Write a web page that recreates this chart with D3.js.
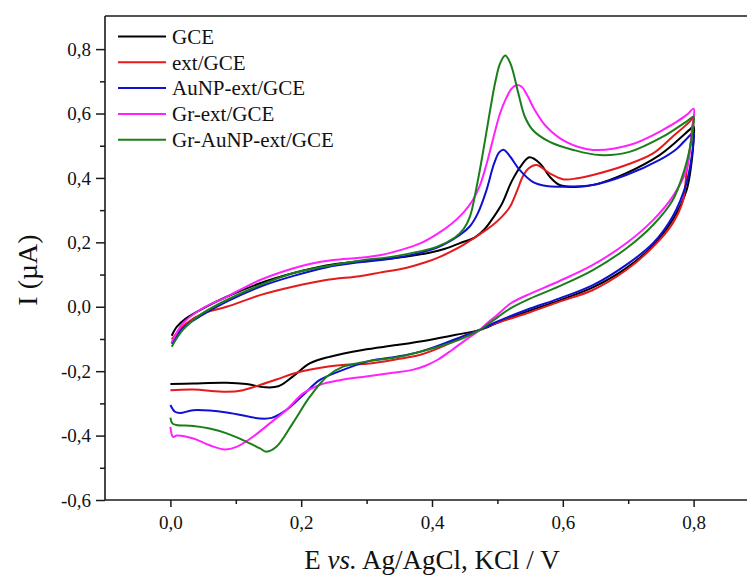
<!DOCTYPE html>
<html>
<head>
<meta charset="utf-8">
<script src="https://cdn.jsdelivr.net/npm/d3@7/dist/d3.min.js"></script>
<style>
  html, body { margin: 0; padding: 0; background: #fff; }
  svg { display: block; }
  text { font-family: "Liberation Serif", "DejaVu Serif", serif; fill: #111; }
</style>
</head>
<body>
<svg id="chart" width="747" height="578"></svg>
<script>
// ---- Data (E / V, I / µA) ----
const seriesNames = ["GCE", "ext/GCE", "AuNP-ext/GCE", "Gr-ext/GCE", "Gr-AuNP-ext/GCE"];
const seriesColors = ["#000000", "#e41a1c", "#1010d0", "#ff22ff", "#1a7f1a"];

const xTickValues = [0.0, 0.2, 0.4, 0.6, 0.8];
const xTickLabels = ["0,0", "0,2", "0,4", "0,6", "0,8"];
const yTickValues = [-0.6, -0.4, -0.2, 0.0, 0.2, 0.4, 0.6, 0.8];
const yTickLabels = ["-0,6", "-0,4", "-0,2", "0,0", "0,2", "0,4", "0,6", "0,8"];

const gce = [
  [0.002,-0.09],[0.01,-0.062],[0.024,-0.036],[0.05,-0.005],[0.086,0.031],[0.137,0.073],
  [0.187,0.104],[0.238,0.128],[0.289,0.141],[0.346,0.152],[0.396,0.168],[0.42,0.18],
  [0.442,0.197],[0.465,0.215],[0.48,0.24],[0.493,0.275],[0.507,0.32],[0.522,0.39],
  [0.537,0.44],[0.549,0.464],[0.565,0.445],[0.58,0.404],[0.595,0.378],[0.618,0.372],
  [0.65,0.38],[0.697,0.415],[0.748,0.471],[0.772,0.51],[0.794,0.550],[0.8,0.56],
  [0.8,0.52],[0.797,0.45],[0.789,0.36],[0.768,0.27],[0.738,0.19],[0.697,0.12],
  [0.646,0.06],[0.595,0.02],[0.544,-0.016],[0.5,-0.05],[0.473,-0.072],[0.442,-0.085],
  [0.396,-0.103],[0.346,-0.119],[0.294,-0.134],[0.244,-0.155],[0.213,-0.176],[0.187,-0.217],
  [0.165,-0.247],[0.145,-0.25],[0.116,-0.24],[0.086,-0.236],[0.035,-0.238],[0.0,-0.24]
];
const ext = [
  [0.002,-0.101],[0.024,-0.052],[0.05,-0.021],[0.086,0.0],[0.137,0.036],[0.187,0.062],
  [0.238,0.083],[0.289,0.095],[0.32,0.106],[0.363,0.122],[0.39,0.138],[0.412,0.155],
  [0.442,0.185],[0.458,0.205],[0.475,0.228],[0.493,0.254],[0.507,0.28],[0.519,0.31],
  [0.53,0.36],[0.539,0.405],[0.548,0.43],[0.56,0.440],[0.58,0.414],[0.60,0.396],
  [0.62,0.398],[0.646,0.409],[0.697,0.44],[0.738,0.476],[0.769,0.53],[0.794,0.575],[0.8,0.59],
  [0.798,0.56],[0.795,0.5],[0.789,0.414],[0.784,0.331],[0.768,0.259],[0.738,0.186],
  [0.697,0.114],[0.646,0.052],[0.595,0.016],[0.544,-0.021],[0.493,-0.055],[0.473,-0.072],
  [0.447,-0.092],[0.42,-0.12],[0.381,-0.15],[0.346,-0.163],[0.305,-0.176],[0.268,-0.18],
  [0.239,-0.186],[0.198,-0.202],[0.162,-0.226],[0.137,-0.243],[0.111,-0.259],[0.086,-0.264],
  [0.035,-0.257],[0.0,-0.259]
];
const auNP = [
  [0.002,-0.115],[0.02,-0.065],[0.045,-0.03],[0.086,0.016],[0.137,0.062],[0.187,0.095],
  [0.238,0.122],[0.289,0.138],[0.346,0.152],[0.407,0.183],[0.442,0.222],[0.458,0.25],
  [0.47,0.29],[0.483,0.36],[0.495,0.445],[0.503,0.48],[0.51,0.487],[0.52,0.465],
  [0.534,0.425],[0.554,0.388],[0.575,0.375],[0.595,0.373],[0.646,0.378],[0.697,0.409],
  [0.748,0.456],[0.774,0.49],[0.791,0.525],[0.8,0.54],
  [0.8,0.518],[0.797,0.466],[0.789,0.383],[0.768,0.28],[0.738,0.197],[0.697,0.130],
  [0.646,0.067],[0.595,0.026],[0.544,-0.010],[0.493,-0.052],[0.473,-0.072],[0.447,-0.092],
  [0.42,-0.113],[0.381,-0.140],[0.346,-0.155],[0.305,-0.168],[0.259,-0.2],[0.228,-0.228],
  [0.203,-0.274],[0.177,-0.321],[0.155,-0.345],[0.137,-0.347],[0.086,-0.328],[0.035,-0.321],
  [0.015,-0.33],[0.007,-0.326],[0.0,-0.305]
];
const grExt = [
  [0.002,-0.11],[0.019,-0.052],[0.045,-0.01],[0.086,0.031],[0.137,0.083],[0.187,0.119],
  [0.213,0.133],[0.249,0.145],[0.289,0.152],[0.32,0.16],[0.35,0.175],[0.38,0.195],
  [0.407,0.225],[0.43,0.258],[0.447,0.29],[0.462,0.33],[0.473,0.375],[0.483,0.44],
  [0.493,0.518],[0.504,0.60],[0.514,0.65],[0.522,0.678],[0.529,0.688],[0.537,0.683],
  [0.546,0.655],[0.556,0.615],[0.575,0.559],[0.605,0.512],[0.646,0.487],[0.702,0.502],
  [0.753,0.549],[0.789,0.595],[0.8,0.615],
  [0.8,0.58],[0.797,0.53],[0.789,0.425],[0.768,0.342],[0.738,0.269],[0.697,0.197],
  [0.646,0.130],[0.595,0.08],[0.544,0.035],[0.52,0.01],[0.5,-0.025],[0.485,-0.05],
  [0.473,-0.072],[0.45,-0.105],[0.43,-0.135],[0.41,-0.163],[0.39,-0.183],[0.37,-0.196],
  [0.34,-0.205],[0.305,-0.215],[0.259,-0.228],[0.228,-0.243],[0.203,-0.269],[0.177,-0.321],
  [0.152,-0.362],[0.126,-0.404],[0.101,-0.435],[0.083,-0.443],[0.06,-0.43],[0.035,-0.409],
  [0.01,-0.40],[0.004,-0.404],[0.0,-0.373]
];
const grAuNP = [
  [0.002,-0.124],[0.019,-0.072],[0.045,-0.026],[0.086,0.021],[0.137,0.067],[0.187,0.104],
  [0.238,0.126],[0.289,0.143],[0.346,0.158],[0.407,0.186],[0.435,0.215],[0.448,0.24],
  [0.458,0.28],[0.468,0.37],[0.478,0.48],[0.488,0.6],[0.497,0.70],[0.504,0.755],
  [0.512,0.78],[0.52,0.755],[0.532,0.663],[0.542,0.59],[0.554,0.549],[0.58,0.512],
  [0.616,0.487],[0.656,0.471],[0.702,0.481],[0.753,0.528],[0.789,0.575],[0.8,0.59],
  [0.8,0.57],[0.795,0.5],[0.786,0.425],[0.768,0.331],[0.738,0.254],[0.697,0.181],
  [0.646,0.114],[0.595,0.064],[0.544,0.02],[0.52,-0.005],[0.5,-0.033],[0.485,-0.055],
  [0.473,-0.072],[0.447,-0.098],[0.42,-0.118],[0.396,-0.132],[0.346,-0.157],[0.305,-0.168],
  [0.285,-0.176],[0.264,-0.186],[0.239,-0.217],[0.213,-0.28],[0.187,-0.362],[0.162,-0.435],
  [0.147,-0.45],[0.137,-0.44],[0.111,-0.414],[0.086,-0.393],[0.06,-0.378],[0.035,-0.37],
  [0.009,-0.367],[0.003,-0.362],[0.0,-0.344]
];
const seriesData = [gce, ext, auNP, grExt, grAuNP];

// ---- Layout ----
const W = 747, H = 578;
const svg = d3.select("#chart");
const x = d3.scaleLinear().domain([-0.1, 0.9]).range([105, 759]);
const y = d3.scaleLinear().domain([-0.6, 0.9]).range([500, 16.9]);

svg.append("defs").append("clipPath").attr("id", "plotclip")
  .append("rect").attr("x", 105).attr("y", 16).attr("width", W - 105).attr("height", 484);

const line = d3.line().x(d => x(d[0])).y(d => y(d[1])).curve(d3.curveCatmullRom.alpha(0.5));
const g = svg.append("g").attr("clip-path", "url(#plotclip)");
seriesData.forEach((s, i) => {
  g.append("path").attr("d", line(s)).attr("fill", "none")
    .attr("stroke", seriesColors[i]).attr("stroke-width", 2).attr("stroke-linejoin", "round");
});

// axes
const axisColor = "#1a1a1a";
const xAxis = d3.axisBottom(x).tickValues(xTickValues).tickFormat((d, i) => xTickLabels[i])
  .tickSize(7).tickPadding(9);
svg.append("g").attr("transform", "translate(0,500)").call(xAxis);
const xMinor = d3.axisBottom(x).tickValues([0.1, 0.3, 0.5, 0.7]).tickFormat("").tickSize(4);
svg.append("g").attr("transform", "translate(0,500)").call(xMinor);

const yAxis = d3.axisLeft(y).tickValues(yTickValues).tickFormat((d, i) => yTickLabels[i])
  .tickSize(9).tickPadding(5);
svg.append("g").attr("transform", "translate(105,0)").call(yAxis);
const yMinor = d3.axisLeft(y).tickValues([-0.5, -0.3, -0.1, 0.1, 0.3, 0.5, 0.7]).tickFormat("").tickSize(5);
svg.append("g").attr("transform", "translate(105,0)").call(yMinor);

svg.selectAll(".domain").remove();
svg.selectAll(".tick line").attr("stroke", axisColor).attr("stroke-width", 1.5);
svg.selectAll(".tick text").attr("font-family", "Liberation Serif, serif")
  .attr("font-size", 19).attr("fill", "#111");

// frame
svg.append("line").attr("x1", 105).attr("x2", W).attr("y1", 500).attr("y2", 500)
  .attr("stroke", axisColor).attr("stroke-width", 1.6);
svg.append("line").attr("x1", 105).attr("x2", W).attr("y1", 16).attr("y2", 16)
  .attr("stroke", axisColor).attr("stroke-width", 1.6);
svg.append("line").attr("x1", 105).attr("x2", 105).attr("y1", 16).attr("y2", 500)
  .attr("stroke", axisColor).attr("stroke-width", 1.6);

// axis titles
svg.append("text").attr("transform", "translate(37,270) rotate(-90)")
  .attr("text-anchor", "middle").attr("font-size", 28).text("I (µA)");
const xt = svg.append("text").attr("x", 432).attr("y", 569)
  .attr("text-anchor", "middle").attr("font-size", 27);
xt.append("tspan").text("E ");
xt.append("tspan").attr("font-style", "italic").text("vs.");
xt.append("tspan").text(" Ag/AgCl, KCl / V");

// legend
const leg = svg.append("g");
seriesNames.forEach((n, i) => {
  const yy = 36.5 + i * 25.8;
  leg.append("line").attr("x1", 118).attr("x2", 166).attr("y1", yy).attr("y2", yy)
    .attr("stroke", seriesColors[i]).attr("stroke-width", 2);
  leg.append("text").attr("x", 172).attr("y", yy).attr("dy", "0.35em")
    .attr("font-size", 21).text(n);
});
</script>
</body>
</html>
